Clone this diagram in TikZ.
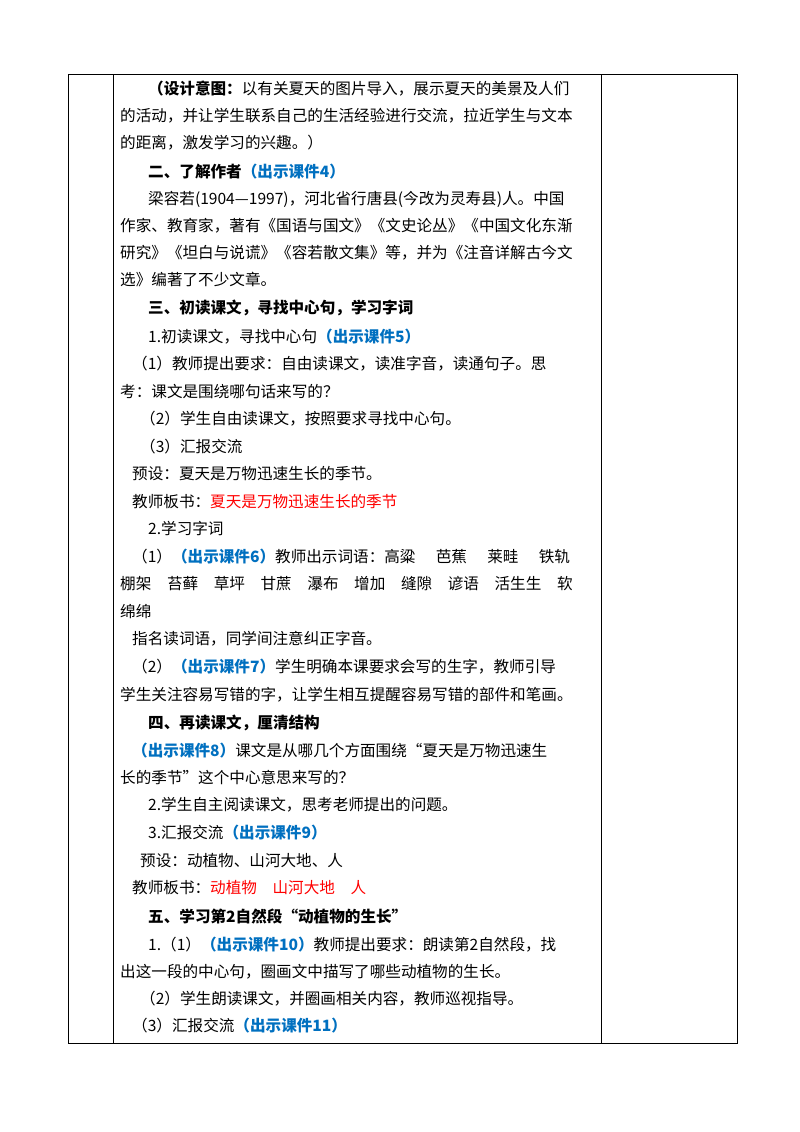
\documentclass[tikz,border=0pt]{standalone}
\usepackage{fontspec}
\setmainfont{Noto Sans CJK SC}
\definecolor{kj}{RGB}{0,112,192}
\definecolor{bs}{RGB}{255,0,0}
\newcommand{\kj}[1]{\textcolor{kj}{\bfseries #1}}
\newcommand{\bs}[1]{\textcolor{bs}{#1}}
\begin{document}
\begin{tikzpicture}[x=1pt,y=-1pt,
  tl/.style={anchor=base west,inner sep=0pt,font=\fontsize{15.6}{18}\selectfont},
  rule/.style={line width=0.6pt}]
\useasboundingbox[fill=white] (0,0) rectangle (800,1132);
\draw[rule] (68,74) rectangle (737,1043);
\draw[rule] (113,74) -- (113,1043);
\draw[rule] (601,74) -- (601,1043);
\node[tl] (l1) at (148,94) {\textbf{（设计意图：}以有关夏天的图片导入，展示夏天的美景及人们};
\node[tl] (l2) at (120,121) {的活动，并让学生联系自己的生活经验进行交流，拉近学生与文本};
\node[tl] (l3) at (120,148) {的距离，激发学习的兴趣。）};
\node[tl] (l4) at (148,177) {\textbf{二、了解作者}\kj{（出示课件4）}};
\node[tl] (l5) at (148,204) {梁容若(1904—1997)，河北省行唐县(今改为灵寿县)人。中国};
\node[tl] (l6) at (120,231) {作家、教育家，著有《国语与国文》《文史论丛》《中国文化东渐};
\node[tl] (l7) at (120,258) {研究》《坦白与说谎》《容若散文集》等，并为《注音详解古今文};
\node[tl] (l8) at (120,285) {选》编著了不少文章。};
\node[tl] (l9) at (148,313) {\textbf{三、初读课文，寻找中心句，学习字词}};
\node[tl] (l10) at (148,342) {1.初读课文，寻找中心句\kj{（出示课件5）}};
\node[tl] (l11) at (132,369) {（1）教师提出要求：自由读课文，读准字音，读通句子。思};
\node[tl] (l12) at (120,397) {考：课文是围绕哪句话来写的？};
\node[tl] (l13) at (140,424) {（2）学生自由读课文，按照要求寻找中心句。};
\node[tl] (l14) at (140,452) {（3）汇报交流};
\node[tl] (l15) at (132,479) {预设：夏天是万物迅速生长的季节。};
\node[tl] (l16) at (132,507) {教师板书：\bs{夏天是万物迅速生长的季节}};
\node[tl] (l17) at (148,534) {2.学习字词};
\node[tl] (l18) at (132,562) {（1）\kj{（出示课件6）}教师出示词语：高粱\hspace{1.3em}芭蕉\hspace{1.3em}莱畦\hspace{1.3em}铁轨};
\node[tl] (l19) at (120,589) {棚架\hspace{1em}苔藓\hspace{1em}草坪\hspace{1em}甘蔗\hspace{1em}瀑布\hspace{1em}增加\hspace{1em}缝隙\hspace{1em}谚语\hspace{1em}活生生\hspace{1em}软};
\node[tl] (l20) at (120,617) {绵绵};
\node[tl] (l21) at (132,644) {指名读词语，同学间注意纠正字音。};
\node[tl] (l22) at (132,672) {（2）\kj{（出示课件7）}学生明确本课要求会写的生字，教师引导};
\node[tl] (l23) at (120,700) {学生关注容易写错的字，让学生相互提醒容易写错的部件和笔画。};
\node[tl] (l24) at (148,728) {\textbf{四、再读课文，厘清结构}};
\node[tl] (l25) at (132,756) {\kj{（出示课件8）}课文是从哪几个方面围绕“夏天是万物迅速生};
\node[tl] (l26) at (120,783) {长的季节”这个中心意思来写的？};
\node[tl] (l27) at (148,810) {2.学生自主阅读课文，思考老师提出的问题。};
\node[tl] (l28) at (148,838) {3.汇报交流\kj{（出示课件9）}};
\node[tl] (l29) at (140,866) {预设：动植物、山河大地、人};
\node[tl] (l30) at (132,893) {教师板书：\bs{动植物\hspace{1em}山河大地\hspace{1em}人}};
\node[tl] (l31) at (148,922) {\textbf{五、学习第2自然段“动植物的生长”}};
\node[tl] (l32) at (148,950) {1.（1）\kj{（出示课件10）}教师提出要求：朗读第2自然段，找};
\node[tl] (l33) at (120,977) {出这一段的中心句，圈画文中描写了哪些动植物的生长。};
\node[tl] (l34) at (140,1004) {（2）学生朗读课文，并圈画相关内容，教师巡视指导。};
\node[tl] (l35) at (132,1031) {（3）汇报交流\kj{（出示课件11）}};
\end{tikzpicture}
\end{document}
